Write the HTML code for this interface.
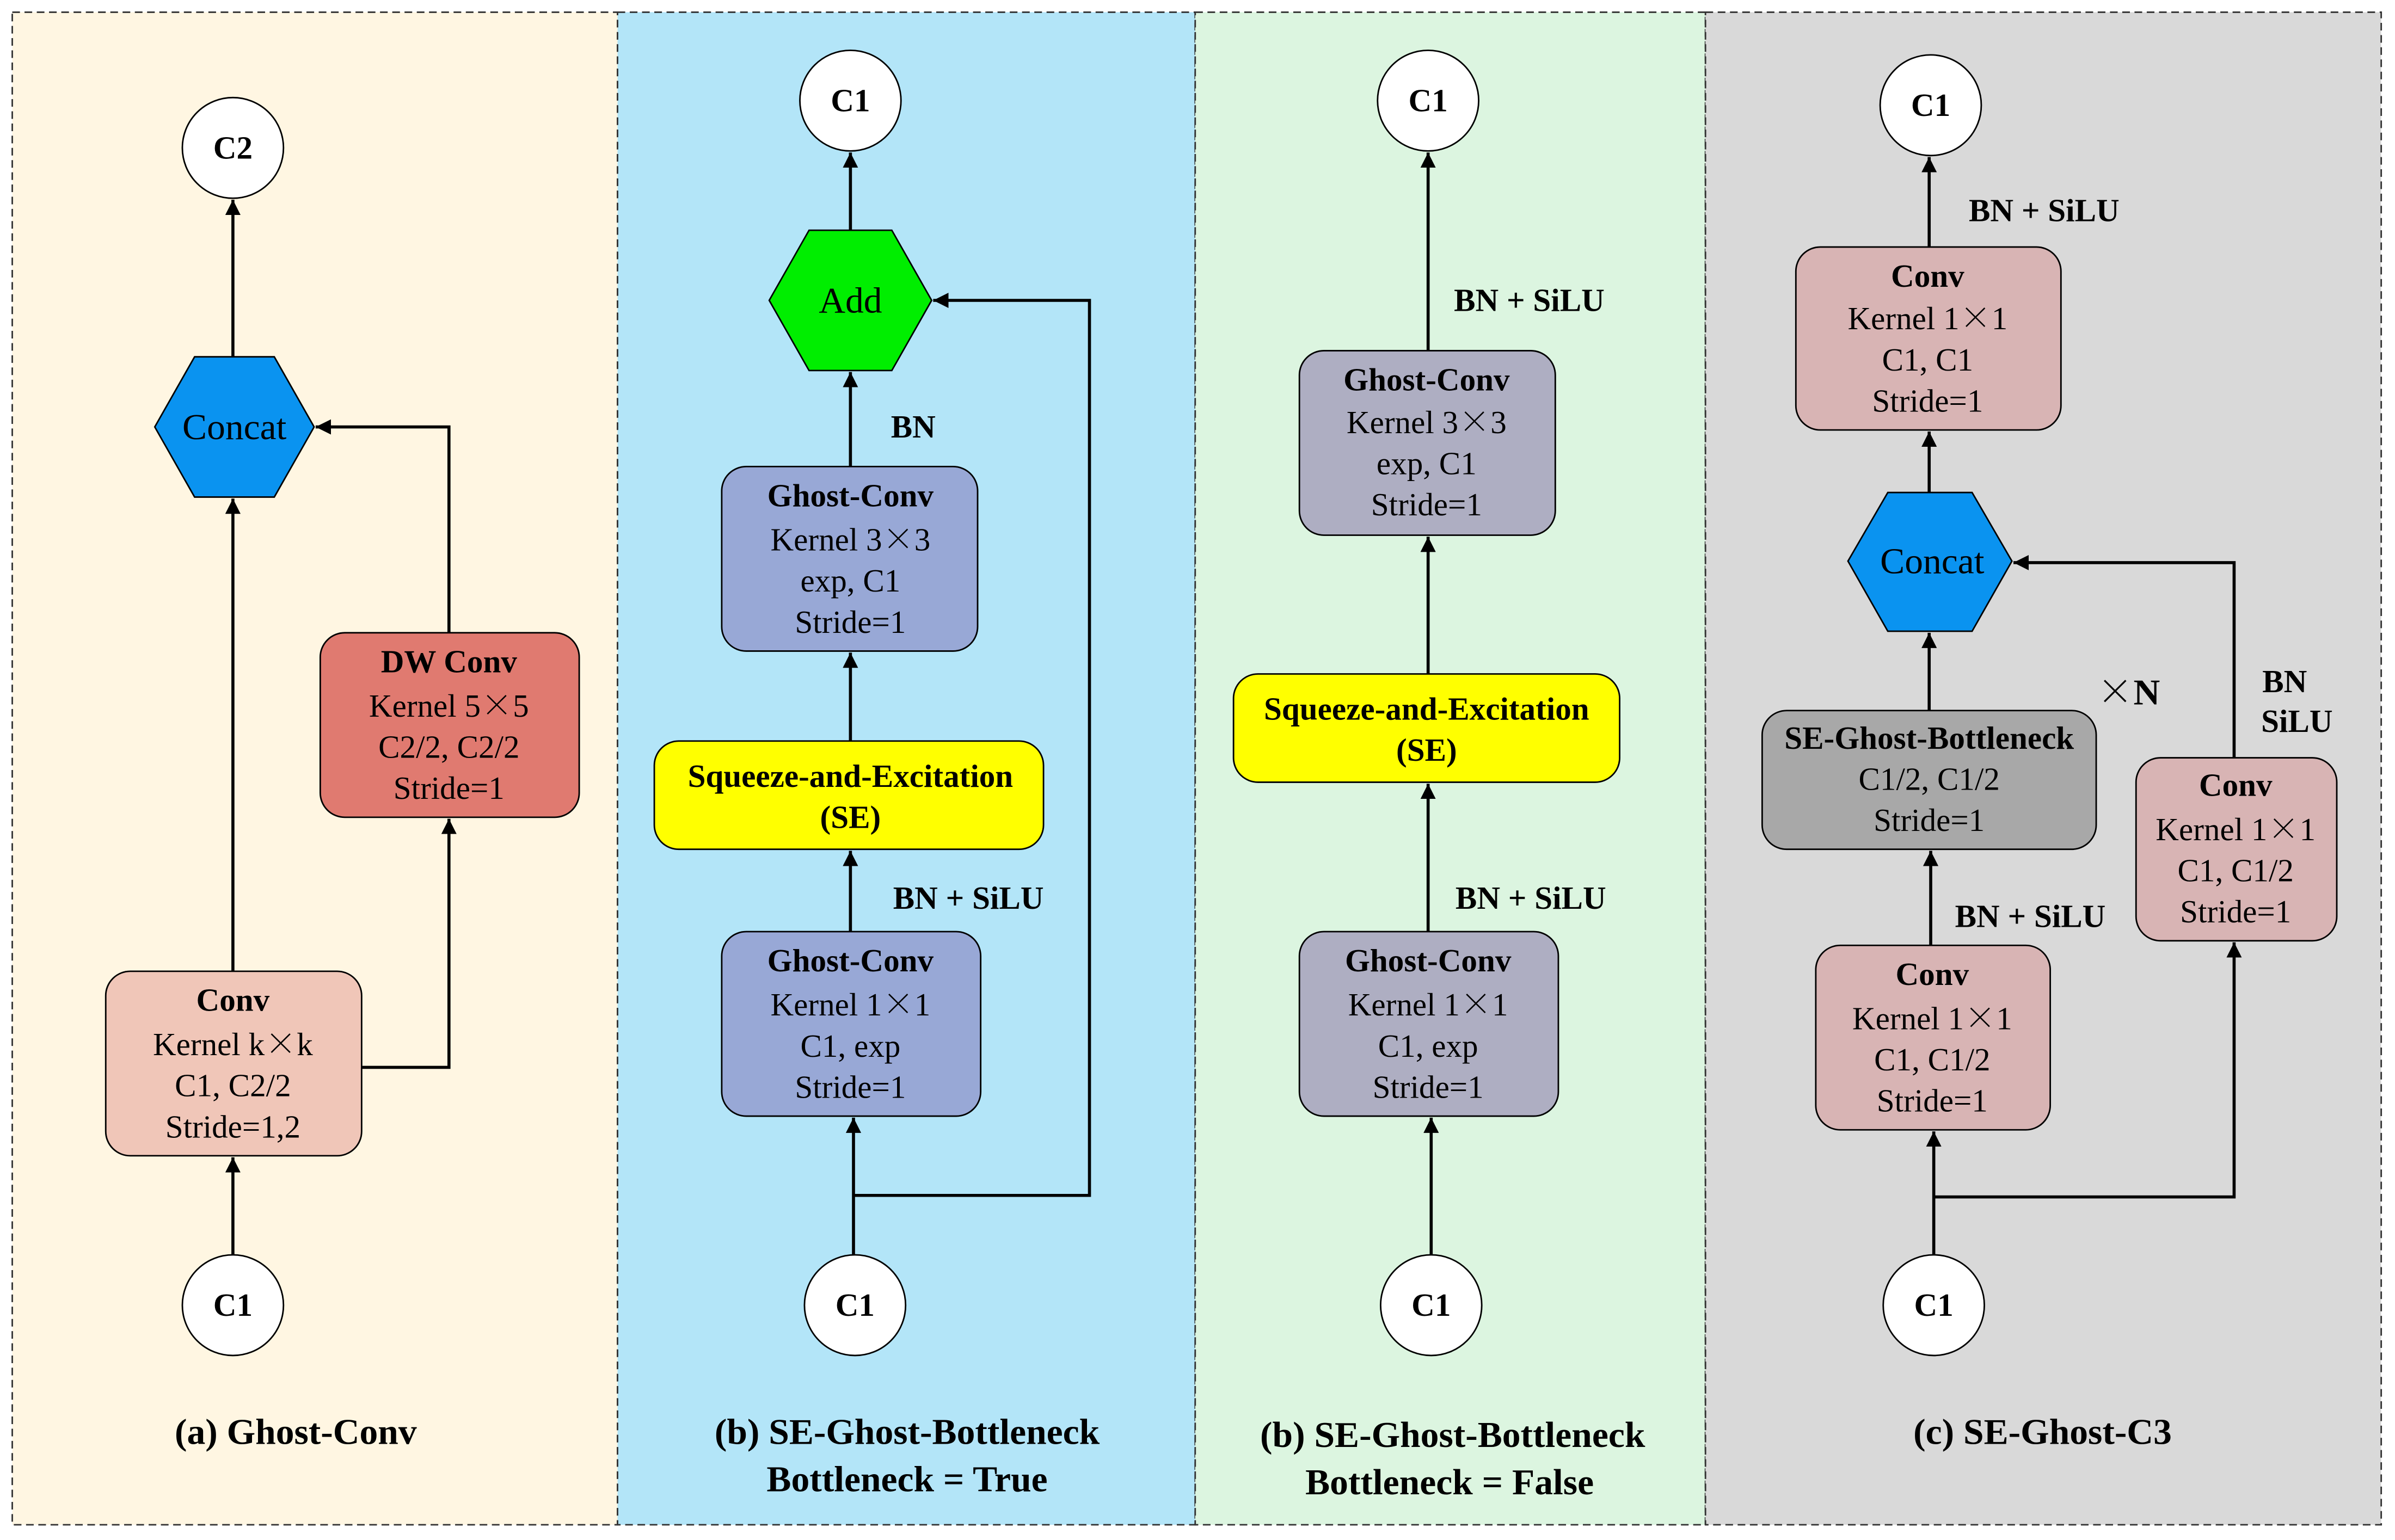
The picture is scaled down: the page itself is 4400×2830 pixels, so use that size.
<!DOCTYPE html>
<html><head><meta charset="utf-8"><style>html,body{margin:0;padding:0;background:#fff}svg{display:block}.x{font-family:"Noto Serif CJK SC",serif}</style></head>
<body>
<svg xmlns="http://www.w3.org/2000/svg" width="4400" height="2830" viewBox="0 0 1563 1010" preserveAspectRatio="none" font-family="'Liberation Serif', serif">
<defs>
<marker id="a" viewBox="0 0 10 10" refX="10" refY="5" markerWidth="5" markerHeight="5" orient="auto" markerUnits="strokeWidth"><path d="M0,0 L10,5 L0,10 z" fill="#000"/></marker>
</defs>
<rect x="0" y="0" width="1563" height="1010" fill="#fff"/>
<g stroke="#333" stroke-width="1" stroke-dasharray="5,3">
<rect x="8" y="8" width="395" height="992" fill="#fff6e2"/>
<rect x="403" y="8" width="377" height="992" fill="#b3e5f8"/>
<rect x="780" y="8" width="333" height="992" fill="#dcf5e0"/>
<rect x="1113" y="8" width="441" height="992" fill="#d9d9d9"/>
</g>
<g stroke="#000" stroke-width="2" fill="none" marker-end="url(#a)">
<line x1="152" y1="823" x2="152" y2="759"/>
<line x1="152" y1="637" x2="152" y2="327"/>
<polyline points="236,700 293,700 293,537"/>
<polyline points="293,415 293,280 206,280"/>
<line x1="152" y1="234" x2="152" y2="131"/>
<line x1="557" y1="823" x2="557" y2="733"/>
<polyline points="557,784 711,784 711,197 609,197"/>
<line x1="555" y1="611" x2="555" y2="558"/>
<line x1="555" y1="486" x2="555" y2="428"/>
<line x1="555" y1="306" x2="555" y2="244"/>
<line x1="555" y1="151" x2="555" y2="100"/>
<line x1="934" y1="823" x2="934" y2="733"/>
<line x1="932" y1="611" x2="932" y2="514"/>
<line x1="932" y1="442" x2="932" y2="352"/>
<line x1="932" y1="230" x2="932" y2="100"/>
<line x1="1262" y1="823" x2="1262" y2="742"/>
<polyline points="1262,785 1458,785 1458,618"/>
<polyline points="1458,497 1458,369 1314,369"/>
<line x1="1260" y1="620" x2="1260" y2="558"/>
<line x1="1259" y1="466" x2="1259" y2="415"/>
<line x1="1259" y1="323" x2="1259" y2="283"/>
<line x1="1259" y1="162" x2="1259" y2="103"/>
</g>
<g stroke="#000" stroke-width="1" fill="#fff">
<circle cx="152" cy="97" r="33"/><circle cx="152" cy="856" r="33"/>
<circle cx="555" cy="66" r="33"/><circle cx="558" cy="856" r="33"/>
<circle cx="932" cy="66" r="33"/><circle cx="934" cy="856" r="33"/>
<circle cx="1260" cy="69" r="33"/><circle cx="1262" cy="856" r="33"/>
</g>
<g stroke="#000" stroke-width="1">
<polygon points="101,280 127,234 179,234 205,280 179,326 127,326" fill="#0a93f0"/>
<polygon points="502,197 528,151 582,151 608,197 582,243 528,243" fill="#00ee00"/>
<polygon points="1206,368 1232,323 1287,323 1313,368 1287,414 1232,414" fill="#0a93f0"/>
<rect x="209" y="415" width="169" height="121" rx="16" fill="#e07a70"/>
<rect x="69" y="637" width="167" height="121" rx="16" fill="#f0c6b8"/>
<rect x="471" y="306" width="167" height="121" rx="16" fill="#98a8d6"/>
<rect x="427" y="486" width="254" height="71" rx="16" fill="#ffff00"/>
<rect x="471" y="611" width="169" height="121" rx="16" fill="#98a8d6"/>
<rect x="848" y="230" width="167" height="121" rx="16" fill="#aeaec2"/>
<rect x="805" y="442" width="252" height="71" rx="16" fill="#ffff00"/>
<rect x="848" y="611" width="169" height="121" rx="16" fill="#aeaec2"/>
<rect x="1172" y="162" width="173" height="120" rx="16" fill="#d8b4b4"/>
<rect x="1150" y="466" width="218" height="91" rx="16" fill="#a8a8a8"/>
<rect x="1185" y="620" width="153" height="121" rx="16" fill="#d8b4b4"/>
<rect x="1394" y="497" width="131" height="120" rx="16" fill="#d8b4b4"/>
</g>
<g font-size="21" text-anchor="middle" fill="#000">
<g font-weight="bold">
<text x="152" y="104">C2</text><text x="152" y="863">C1</text>
<text x="555" y="73">C1</text><text x="558" y="863">C1</text>
<text x="932" y="73">C1</text><text x="934" y="863">C1</text>
<text x="1260" y="76">C1</text><text x="1262" y="863">C1</text>
</g>
<text x="153" y="288" font-size="24">Concat</text>
<text x="555" y="205" font-size="24">Add</text>
<text x="1261" y="376" font-size="24">Concat</text>
<text x="293" y="441" font-weight="bold">DW Conv</text><text x="293" y="470">Kernel 5<tspan class="x">×</tspan>5</text><text x="293" y="497">C2/2, C2/2</text><text x="293" y="524">Stride=1</text>
<text x="152" y="663" font-weight="bold">Conv</text><text x="152" y="692">Kernel k<tspan class="x">×</tspan>k</text><text x="152" y="719">C1, C2/2</text><text x="152" y="746">Stride=1,2</text>
<text x="555" y="332" font-weight="bold">Ghost-Conv</text><text x="555" y="361">Kernel 3<tspan class="x">×</tspan>3</text><text x="555" y="388">exp, C1</text><text x="555" y="415">Stride=1</text>
<text x="555" y="516" font-weight="bold">Squeeze-and-Excitation</text><text x="555" y="543" font-weight="bold">(SE)</text>
<text x="555" y="637" font-weight="bold">Ghost-Conv</text><text x="555" y="666">Kernel 1<tspan class="x">×</tspan>1</text><text x="555" y="693">C1, exp</text><text x="555" y="720">Stride=1</text>
<text x="931" y="256" font-weight="bold">Ghost-Conv</text><text x="931" y="284">Kernel 3<tspan class="x">×</tspan>3</text><text x="931" y="311">exp, C1</text><text x="931" y="338">Stride=1</text>
<text x="931" y="472" font-weight="bold">Squeeze-and-Excitation</text><text x="931" y="499" font-weight="bold">(SE)</text>
<text x="932" y="637" font-weight="bold">Ghost-Conv</text><text x="932" y="666">Kernel 1<tspan class="x">×</tspan>1</text><text x="932" y="693">C1, exp</text><text x="932" y="720">Stride=1</text>
<text x="1258" y="188" font-weight="bold">Conv</text><text x="1258" y="216">Kernel 1<tspan class="x">×</tspan>1</text><text x="1258" y="243">C1, C1</text><text x="1258" y="270">Stride=1</text>
<text x="1259" y="491" font-weight="bold">SE-Ghost-Bottleneck</text><text x="1259" y="518">C1/2, C1/2</text><text x="1259" y="545">Stride=1</text>
<text x="1261" y="646" font-weight="bold">Conv</text><text x="1261" y="675">Kernel 1<tspan class="x">×</tspan>1</text><text x="1261" y="702">C1, C1/2</text><text x="1261" y="729">Stride=1</text>
<text x="1459" y="522" font-weight="bold">Conv</text><text x="1459" y="551">Kernel 1<tspan class="x">×</tspan>1</text><text x="1459" y="578">C1, C1/2</text><text x="1459" y="605">Stride=1</text>
<g font-weight="bold">
<text x="596" y="287">BN</text>
<text x="632" y="596">BN + SiLU</text>
<text x="998" y="204">BN + SiLU</text>
<text x="999" y="596">BN + SiLU</text>
<text x="1334" y="145">BN + SiLU</text>
<text x="1325" y="608">BN + SiLU</text>
<text x="1491" y="454">BN</text><text x="1499" y="480">SiLU</text>
<text x="1389" y="462" font-size="24"><tspan class="x">×</tspan>N</text>
<g font-size="24">
<text x="193" y="947">(a) Ghost-Conv</text>
<text x="592" y="947">(b) SE-Ghost-Bottleneck</text><text x="592" y="978">Bottleneck = True</text>
<text x="948" y="949">(b) SE-Ghost-Bottleneck</text><text x="946" y="980">Bottleneck = False</text>
<text x="1333" y="947">(c) SE-Ghost-C3</text>
</g>
</g>
</g>
</svg>
</body></html>
